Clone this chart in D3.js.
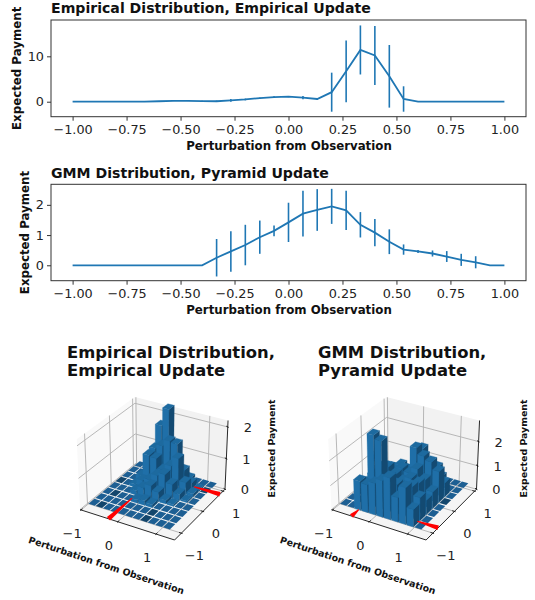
<!DOCTYPE html>
<html>
<head>
<meta charset="utf-8">
<script src="https://cdnjs.cloudflare.com/ajax/libs/d3/7.8.5/d3.min.js"></script>
<style>
body { margin: 0; background: #fff; }
svg { display: block; }
text { font-family: "DejaVu Sans", sans-serif; fill: #111; }
</style>
</head>
<body>
<svg id="chart" width="535" height="600"></svg>
<script>
var xVals = [-1, -0.933, -0.867, -0.8, -0.733, -0.667, -0.6, -0.533, -0.467, -0.4, -0.333, -0.267, -0.2, -0.133, -0.067, 0, 0.067, 0.133, 0.2, 0.267, 0.333, 0.4, 0.467, 0.533, 0.6, 0.667, 0.733, 0.8, 0.867, 0.933, 1];
var xTicks = [-1, -0.75, -0.5, -0.25, 0, 0.25, 0.5, 0.75, 1];

var empMean = [0, 0, 0, 0, 0, 0.02, 0.1, 0.2, 0.2, 0.15, 0.1, 0.3, 0.5, 0.8, 1, 1.1, 0.9, 0.6, 2.1, 6.7, 11.4, 10.2, 5.6, 0.6, 0, 0, 0, 0, 0, 0, 0];
var empErr = [0, 0, 0, 0, 0, 0.02, 0.05, 0.05, 0.05, 0.05, 0.15, 0.3, 0.2, 0.1, 0.2, 0.1, 0.35, 0.2, 4.3, 6.8, 5.4, 6.5, 6.9, 2.8, 0, 0, 0, 0, 0, 0, 0];
var gmmMean = [0, 0, 0, 0, 0, 0, 0, 0, 0, 0, 0.25, 0.46, 0.67, 0.93, 1.14, 1.42, 1.71, 1.83, 1.95, 1.82, 1.34, 1.08, 0.78, 0.52, 0.46, 0.39, 0.29, 0.18, 0.1, 0, 0];
var gmmErr = [0, 0, 0, 0, 0, 0, 0, 0, 0, 0, 0.62, 0.67, 0.67, 0.55, 0.18, 0.65, 0.76, 0.69, 0.58, 0.65, 0.42, 0.45, 0.41, 0.17, 0.05, 0.1, 0.18, 0.2, 0.2, 0, 0];

var gridX = [-1, -0.8, -0.6, -0.4, -0.2, 0, 0.2, 0.4, 0.6, 0.8, 1];
var gridY = [-1, -0.714, -0.429, -0.143, 0.143, 0.429, 0.714, 1];

// rows are y positions (front to back), columns x positions
var empHeights = [
  [0, 0, 0, 0, 0, 0, 0, 0, 0, 0, 0],
  [0, 0, 0, 0, 0, 0, 0, 0, 0, 0, 0],
  [0, 0, 0, 0, 0.1, 0.15, 0.1, 0, 0, 0, 0],
  [0, 0, 0, 0.15, 0.31, 0.45, 0.31, 0.12, 0.05, 0, 0],
  [0, 0, 0.1, 0.3, 0.39, 0.6, 0.7, 0.45, 0.2, 0.05, 0],
  [0, 0, 0.2, 0.94, 0.91, 0.6, 0.8, 1.1, 0.4, 0.1, 0],
  [0, 0, 0.1, 1.0, 1.15, 1.36, 1.33, 0.55, 0.2, 0.05, 0],
  [0, 0, 0.1, 1.57, 2.15, 0.3, 0.2, 0.1, 0, 0, 0]
];
var gmmHeights = [
  [0, 0, 1.2, 1.15, 1.3, 1.5, 1.7, 1.0, 1.5, 0.72, 0],
  [0, 0, 0.9, 2.9, 2.75, 1.4, 1.2, 1.1, 1.3, 0.95, 0],
  [0, 0.5, 1.0, 1.4, 1.5, 1.3, 1.1, 1.3, 1.2, 0.6, 0],
  [0, 0.3, 0.8, 1.1, 1.1, 1.3, 1.2, 1.45, 1.1, 0.7, 0],
  [0, 0, 0.5, 0.9, 1.13, 1.0, 2.0, 1.75, 1.6, 1.3, 0],
  [0, 0, 0, 0.4, 0.7, 0.9, 1.75, 1.2, 1.15, 0.6, 0],
  [0, 0, 0, 0, 0.3, 0.5, 0.8, 0.7, 0.1, 0, 0],
  [0, 0, 0, 0, 0, 0.2, 0.3, 0.2, 0, 0, 0]
];
// [xIndex, yIndex] of the flat cells that come out darker
var empDark = [[1, 0], [0, 4], [1, 2], [3, 3], [7, 1], [7, 0], [8, 3], [9, 5], [10, 6]];
var gmmDark = [[10, 4]];

var svg = d3.select("#chart");
var blue = "#1f77b4";

var drawLinePanel = function(box, yDomain, yTicks, mean, err, title, baselines, yLabelX) {
  var x = d3.scaleLinear().domain([-1, 1]).range([72.6, 504.4]);
  var y = d3.scaleLinear().domain(yDomain).range([box.bottom, box.top]);
  var g = svg.append("g");

  g.append("rect").attr("x", box.left).attr("y", box.top)
    .attr("width", box.right - box.left).attr("height", box.bottom - box.top)
    .attr("fill", "none").attr("stroke", "#333").attr("stroke-width", 1);

  var xAxis = g.append("g").attr("transform", "translate(0," + box.bottom + ")")
    .call(d3.axisBottom(x).tickValues(xTicks).tickSizeOuter(0).tickSize(4).tickFormat(d3.format(".2f")));
  var yAxis = g.append("g").attr("transform", "translate(" + box.left + ",0)")
    .call(d3.axisLeft(y).tickValues(yTicks).tickSizeOuter(0).tickSize(4).tickFormat(d3.format("d")));
  [xAxis, yAxis].forEach(function(a) {
    a.select(".domain").remove();
    a.selectAll("line").attr("stroke", "#333");
    a.selectAll("text").style("font-size", "12.8px").attr("fill", "#222").style("fill", "#222");
  });
  xAxis.selectAll("text").attr("dy", null).attr("y", 17.5);

  var line = d3.line().x(function(d, i) { return x(xVals[i]); }).y(function(d) { return y(d); });
  g.append("path").datum(mean).attr("d", line).attr("fill", "none").attr("stroke", blue).attr("stroke-width", 1.8);
  g.selectAll(".bar").data(mean).enter().append("line")
    .attr("x1", function(d, i) { return x(xVals[i]); })
    .attr("x2", function(d, i) { return x(xVals[i]); })
    .attr("y1", function(d, i) { return y(d - err[i]); })
    .attr("y2", function(d, i) { return y(d + err[i]); })
    .attr("stroke", blue).attr("stroke-width", 1.6);

  g.append("text").attr("x", box.left).attr("y", baselines.title)
    .style("font-weight", "bold").style("font-size", "14.1px").text(title);
  g.append("text").attr("x", 289).attr("y", baselines.xlabel).attr("text-anchor", "middle")
    .style("font-weight", "bold").style("font-size", "11.8px").text("Perturbation from Observation");
  g.append("text").attr("transform", "translate(" + yLabelX + "," + (box.top + box.bottom) / 2 + ") rotate(-90)")
    .attr("text-anchor", "middle")
    .style("font-weight", "bold").style("font-size", "11.8px").text("Expected Payment");
};

drawLinePanel({left: 51, right: 526, top: 20, bottom: 116.7}, [-3.3, 18], [0, 10], empMean, empErr,
  "Empirical Distribution, Empirical Update", {title: 13, xlabel: 150}, 21);
drawLinePanel({left: 51, right: 526, top: 184.3, bottom: 280.7}, [-0.51, 2.68], [0, 1, 2], gmmMean, gmmErr,
  "GMM Distribution, Pyramid Update", {title: 178, xlabel: 314}, 29);

// matplotlib style projection: elev 30, azim -60, dist 10, box 4:4:3
var view = (function() {
  var el = 30 * Math.PI / 180, az = -60 * Math.PI / 180, dist = 10;
  var n = [Math.cos(az) * Math.cos(el), Math.sin(az) * Math.cos(el), Math.sin(el)];
  var u = [-n[1], n[0], 0];
  var ul = Math.sqrt(u[0] * u[0] + u[1] * u[1]);
  u = [u[0] / ul, u[1] / ul, 0];
  var v = [n[1] * u[2] - n[2] * u[1], n[2] * u[0] - n[0] * u[2], n[0] * u[1] - n[1] * u[0]];
  return function(p) {
    var w = dist - (p[0] * n[0] + p[1] * n[1] + p[2] * n[2]);
    return [(p[0] * u[0] + p[1] * u[1] + p[2] * u[2]) / w, (p[0] * v[0] + p[1] * v[1] + p[2] * v[2]) / w];
  };
})();

var draw3d = function(opt) {
  var g = svg.append("g");
  var xLim = [-1.03, 1.47], yLim = [-1.3, 1.1], zLim = [0, opt.zMax];
  var bx = d3.scaleLinear().domain(xLim).range([-0.5715, 0.5715]);
  var by = d3.scaleLinear().domain(yLim).range([-0.5715, 0.5715]);
  var bz = d3.scaleLinear().domain(zLim).range([-0.4285, 0.4285]);
  var raw = function(p) { return view([bx(p[0]), by(p[1]), bz(p[2])]); };

  var sx = d3.scaleLinear()
    .domain([raw([xLim[0], yLim[0], 0])[0], raw([xLim[1], yLim[1], 0])[0]])
    .range([80 + opt.dx, 225 + opt.dx]);
  var sy = d3.scaleLinear()
    .domain([raw([xLim[1], yLim[0], 0])[1], raw([xLim[0], yLim[1], opt.zMax])[1]])
    .range([540, 397]);
  var pt = function(p) { var r = raw(p); return [sx(r[0]), sy(r[1])]; };
  var poly = function(corners, fill, stroke) {
    g.append("polygon")
      .attr("points", corners.map(function(c) { return pt(c).join(","); }).join(" "))
      .attr("fill", fill).attr("stroke", stroke || "none").attr("stroke-width", stroke ? 0.3 : 0);
  };
  var seg = function(pts, color, w) {
    g.append("polyline")
      .attr("points", pts.map(function(c) { return pt(c).join(","); }).join(" "))
      .attr("fill", "none").attr("stroke", color).attr("stroke-width", w);
  };

  var x0 = xLim[0], x1 = xLim[1], y0 = yLim[0], y1 = yLim[1], zt = opt.zMax;
  poly([[x0, y0, 0], [x0, y1, 0], [x0, y1, zt], [x0, y0, zt]], "#f9f9f9");
  poly([[x0, y1, 0], [x1, y1, 0], [x1, y1, zt], [x0, y1, zt]], "#f2f2f2");
  poly([[x0, y0, 0], [x1, y0, 0], [x1, y1, 0], [x0, y1, 0]], "#f5f5f5");

  var axisTicks = [-1, 0, 1];
  axisTicks.forEach(function(t) {
    seg([[t, y0, 0], [t, y1, 0], [t, y1, zt]], "#b0b0b0", 0.9);
    seg([[x0, t, zt], [x0, t, 0], [x1, t, 0]], "#b0b0b0", 0.9);
  });
  opt.zTicks.forEach(function(t) {
    seg([[x0, y0, t], [x0, y1, t], [x1, y1, t]], "#b0b0b0", 0.9);
  });

  seg([[x0, y0, 0], [x1, y0, 0]], "#111", 0.9);
  seg([[x1, y0, 0], [x1, y1, 0]], "#111", 0.9);
  seg([[x1, y1, 0], [x1, y1, zt]], "#111", 0.9);

  axisTicks.forEach(function(t) {
    seg([[t, y0 - 0.03, 0], [t, y0 + 0.06, 0]], "#111", 0.9);
    seg([[x1 - 0.06, t, 0], [x1 + 0.03, t, 0]], "#111", 0.9);
    var a = pt([t, y0, 0]), b = pt([x1, t, 0]);
    g.append("text").attr("x", a[0] - 9).attr("y", a[1] + 28).attr("text-anchor", "middle")
      .style("font-size", "13px").style("fill", "#222").text(t < 0 ? "\u2212" + (-t) : t);
    g.append("text").attr("x", b[0] + 13).attr("y", b[1] + 27).attr("text-anchor", "middle")
      .style("font-size", "13px").style("fill", "#222").text(t < 0 ? "\u2212" + (-t) : t);
  });
  opt.zTicks.forEach(function(t) {
    seg([[x1 - 0.05, y1 + 0.02, t], [x1 + 0.03, y1 - 0.01, t]], "#111", 0.9);
    var c = pt([x1, y1, t]);
    g.append("text").attr("x", c[0] + 20).attr("y", c[1] + 5).attr("text-anchor", "middle")
      .style("font-size", "13px").style("fill", "#222").text(t);
  });

  // back to front: far rows first, and left to right inside a row
  var bwX = 0.175, bwY = 0.245, heights = opt.heights, darkKey = {};
  opt.dark.forEach(function(d) { darkKey[d[0] + "_" + d[1]] = true; });

  d3.range(gridY.length - 1, -1, -1).forEach(function(j) {
    gridX.forEach(function(xp, i) {
      var yp = gridY[j], h = heights[j][i];
      var a = xp, b = xp + bwX, c = yp, d = yp + bwY;
      if (h > 0) {
        poly([[a, c, 0], [b, c, 0], [b, c, h], [a, c, h]], "#1f6fa8", "#1f6fa8");
        poly([[b, c, 0], [b, d, 0], [b, d, h], [b, c, h]], "#134a72", "#134a72");
        poly([[a, c, h], [b, c, h], [b, d, h], [a, d, h]], "#1d6a9f", "#1d6a9f");
      } else {
        poly([[a, c, 0], [b, c, 0], [b, d, 0], [a, d, 0]], darkKey[i + "_" + j] ? "#13466c" : "#1d5f93");
      }
    });
  });

  // red markers: thin far end, thick where they reach the axis
  opt.markers.forEach(function(m) {
    var s = pt(m.from), e = pt(m.to);
    var len = Math.hypot(e[0] - s[0], e[1] - s[1]);
    var nx = -(e[1] - s[1]) / len, ny = (e[0] - s[0]) / len;
    g.append("polygon")
      .attr("points", [
        [s[0] + nx * 0.5, s[1] + ny * 0.5], [s[0] - nx * 0.5, s[1] - ny * 0.5],
        [e[0] - nx * 2.4, e[1] - ny * 2.4], [e[0] + nx * 2.4, e[1] + ny * 2.4]
      ].map(function(q) { return q.join(","); }).join(" "))
      .attr("fill", "#ff0000");
  });

  g.selectAll(".title").data(opt.title).enter().append("text")
    .attr("x", opt.titleX).attr("y", function(d, i) { return 358 + i * 18; })
    .style("font-weight", "bold").style("font-size", "16.4px").text(function(d) { return d; });

  g.append("text").attr("transform", "translate(" + (106.3 + opt.dx) + ",565.7) rotate(18.5)")
    .attr("text-anchor", "middle").attr("dy", "0.32em")
    .style("font-weight", "bold").style("font-size", "9.4px").text("Perturbation from Observation");
  g.append("text").attr("transform", "translate(" + (272 + opt.dx) + ",448.5) rotate(-90)")
    .attr("text-anchor", "middle").attr("dy", "0.32em")
    .style("font-weight", "bold").style("font-size", "9.4px").text("Expected Payment");
};

draw3d({
  dx: 0, zMax: 2.2, zTicks: [0, 1, 2], heights: empHeights, dark: empDark, titleX: 67,
  title: ["Empirical Distribution,", "Empirical Update"],
  markers: [
    {from: [-0.25, -0.3, 0], to: [-0.25, -1.3, 0]},
    {from: [0.77, 0.84, 0], to: [1.47, 0.84, 0]}
  ]
});
draw3d({
  dx: 251.5, zMax: 2.85, zTicks: [0, 1, 2], heights: gmmHeights, dark: gmmDark, titleX: 318,
  title: ["GMM Distribution,", "Pyramid Update"],
  markers: [
    {from: [-0.48, -1.0, 0], to: [-0.48, -1.3, 0]},
    {from: [0.93, -0.76, 0], to: [1.47, -0.76, 0]}
  ]
});
</script>
</body>
</html>
